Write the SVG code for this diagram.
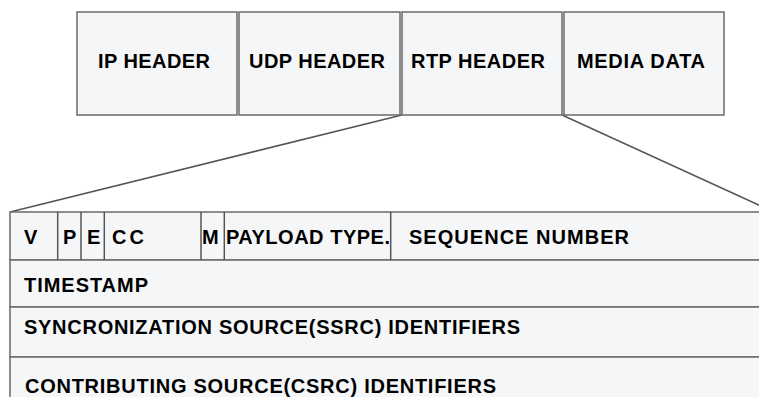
<svg xmlns="http://www.w3.org/2000/svg" width="759" height="397" viewBox="0 0 759 397">
<style>
.box{fill:#f5f6f8;stroke:#6a6a6a;stroke-width:1.5}
.ln{fill:none;stroke:#555;stroke-width:1.5}
.t{font-family:"Liberation Sans",Arial,sans-serif;font-weight:bold;font-size:20px;fill:#000}
</style>
<rect width="759" height="397" fill="#fff"/>
<g id="connectors">
<line class="ln" x1="402" y1="115" x2="10" y2="212"/>
<line class="ln" x1="562" y1="115" x2="774" y2="212"/>
</g>
<g id="ip-header"><rect class="box" x="77" y="12" width="160" height="103"/><text class="t" x="98" y="68" textLength="112" lengthAdjust="spacing">IP HEADER</text></g>
<g id="udp-header"><rect class="box" x="239" y="12" width="161" height="103"/><text class="t" x="249" y="68" textLength="136" lengthAdjust="spacing">UDP HEADER</text></g>
<g id="rtp-header"><rect class="box" x="402" y="12" width="160" height="103"/><text class="t" x="411" y="68" textLength="134" lengthAdjust="spacing">RTP HEADER</text></g>
<g id="media-data"><rect class="box" x="564" y="12" width="160" height="103"/><text class="t" x="577" y="68" textLength="128" lengthAdjust="spacing">MEDIA DATA</text></g>
<g id="rtp-table">
<rect class="box" x="10" y="212" width="780" height="48"/>
<rect class="box" x="10" y="260" width="780" height="47"/>
<rect class="box" x="10" y="307" width="780" height="50"/>
<rect class="box" x="10" y="357" width="780" height="60"/>
<g class="ln">
<line x1="57.7" y1="212" x2="57.7" y2="260"/>
<line x1="81" y1="212" x2="81" y2="260"/>
<line x1="104.3" y1="212" x2="104.3" y2="260"/>
<line x1="201" y1="212" x2="201" y2="260"/>
<line x1="224.3" y1="212" x2="224.3" y2="260"/>
<line x1="390.7" y1="212" x2="390.7" y2="260"/>
</g>
<text class="t" x="24" y="244">V</text>
<text class="t" x="63" y="244">P</text>
<text class="t" x="87" y="244">E</text>
<text class="t" x="112" y="244" textLength="32" lengthAdjust="spacing">CC</text>
<text class="t" x="202" y="244">M</text>
<text class="t" x="226" y="244" textLength="164" lengthAdjust="spacing">PAYLOAD TYPE.</text>
<text class="t" x="409" y="244" textLength="220" lengthAdjust="spacing">SEQUENCE NUMBER</text>
<text class="t" x="24" y="292" textLength="124" lengthAdjust="spacing">TIMESTAMP</text>
<text class="t" x="24" y="334" textLength="496" lengthAdjust="spacing">SYNCRONIZATION SOURCE(SSRC) IDENTIFIERS</text>
<text class="t" x="25" y="393" textLength="471" lengthAdjust="spacing">CONTRIBUTING SOURCE(CSRC) IDENTIFIERS</text>
</g>
</svg>
